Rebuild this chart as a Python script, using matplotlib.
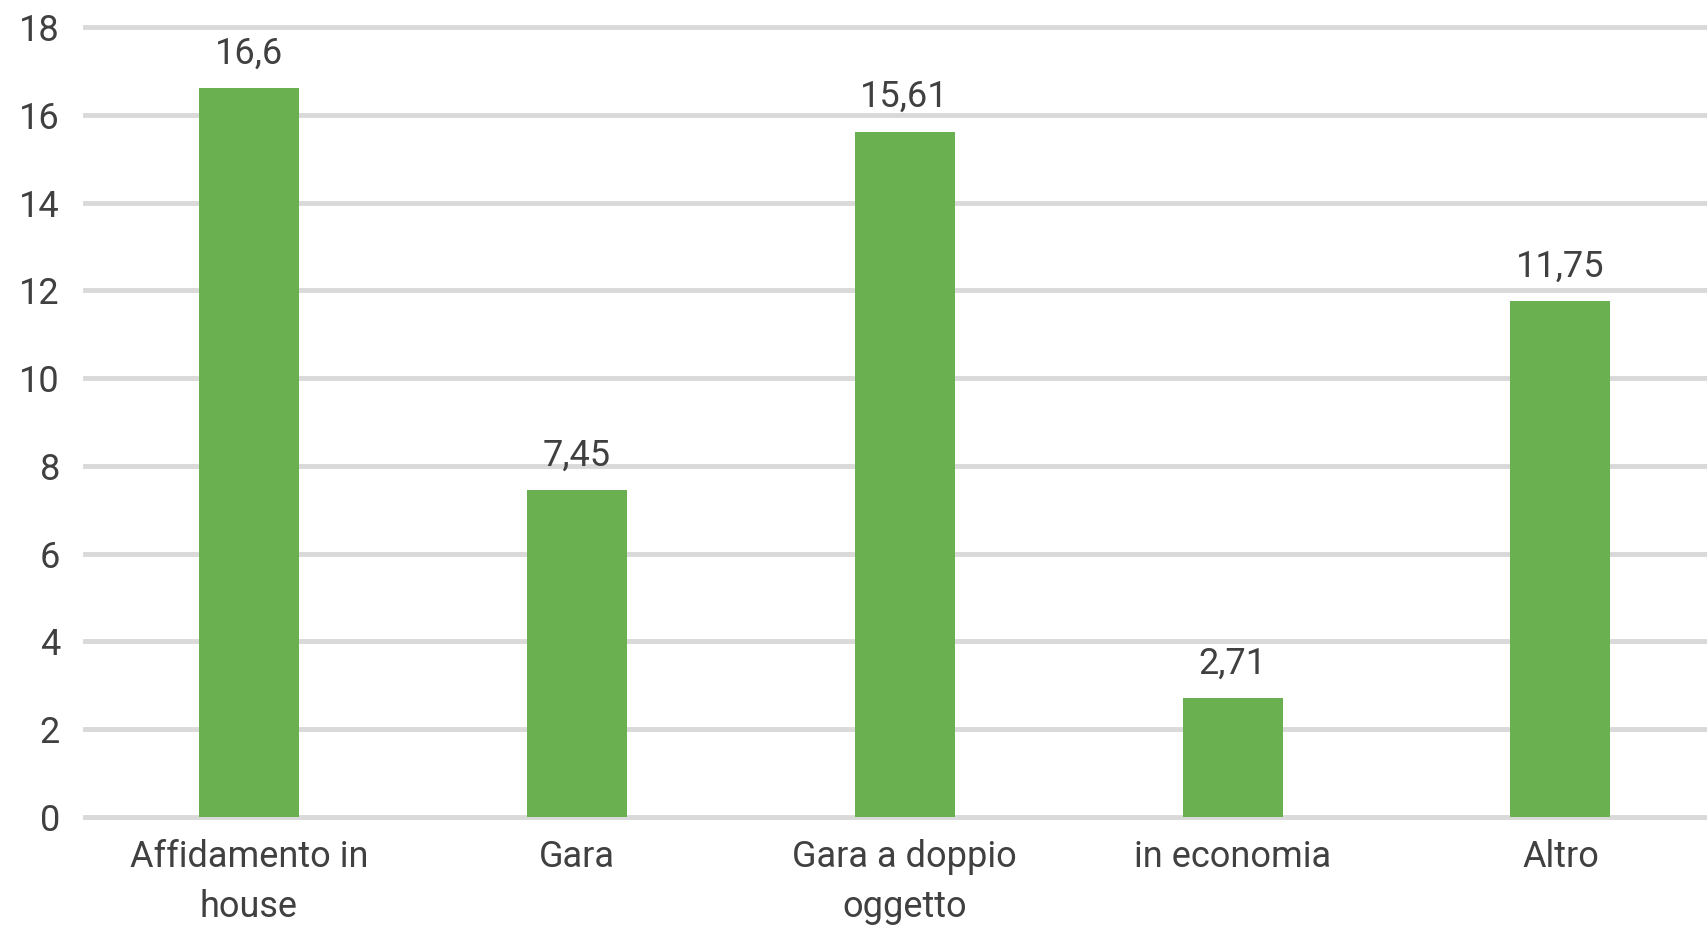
import matplotlib.pyplot as plt

# Dati
categorie = ["Affidamento in\nhouse", "Gara", "Gara a doppio\noggetto", "in economia", "Altro"]
valori = [16.6, 7.45, 15.61, 2.71, 11.75]
etichette = ["16,6", "7,45", "15,61", "2,71", "11,75"]
tick_y = [0, 2, 4, 6, 8, 10, 12, 14, 16, 18]

plt.rcParams['font.family'] = ['Roboto', 'DejaVu Sans']

fig = plt.figure(figsize=(17.08, 9.30), dpi=100)
ax = fig.add_axes([0.0498, 0.1215, 0.9502, 0.8495])

x = range(len(categorie))
ax.bar(x, valori, width=0.305, color='#6aaf50', zorder=3)

for i, v in enumerate(valori):
    ax.annotate(etichette[i], (i, v), xytext=(0, 12), textcoords='offset points',
                ha='center', va='bottom', fontsize=26, color='#404040')

ax.set_xlim(-0.5, 4.45)
ax.set_ylim(0, 18)
ax.set_yticks(tick_y)
ax.set_xticks(list(x))
ax.set_xticklabels(categorie, fontsize=26, color='#404040', linespacing=1.5)
ax.tick_params(axis='y', labelsize=26, labelcolor='#404040', length=0, pad=18)
ax.tick_params(axis='x', length=0, pad=16)

ax.grid(True, axis='y', color='#d9d9d9', linewidth=3.5, zorder=0)
ax.set_axisbelow(True)
for g in ax.get_ygridlines():
    g.set_clip_on(False)
for s in ax.spines.values():
    s.set_visible(False)

fig.savefig('out.png', dpi=100)
